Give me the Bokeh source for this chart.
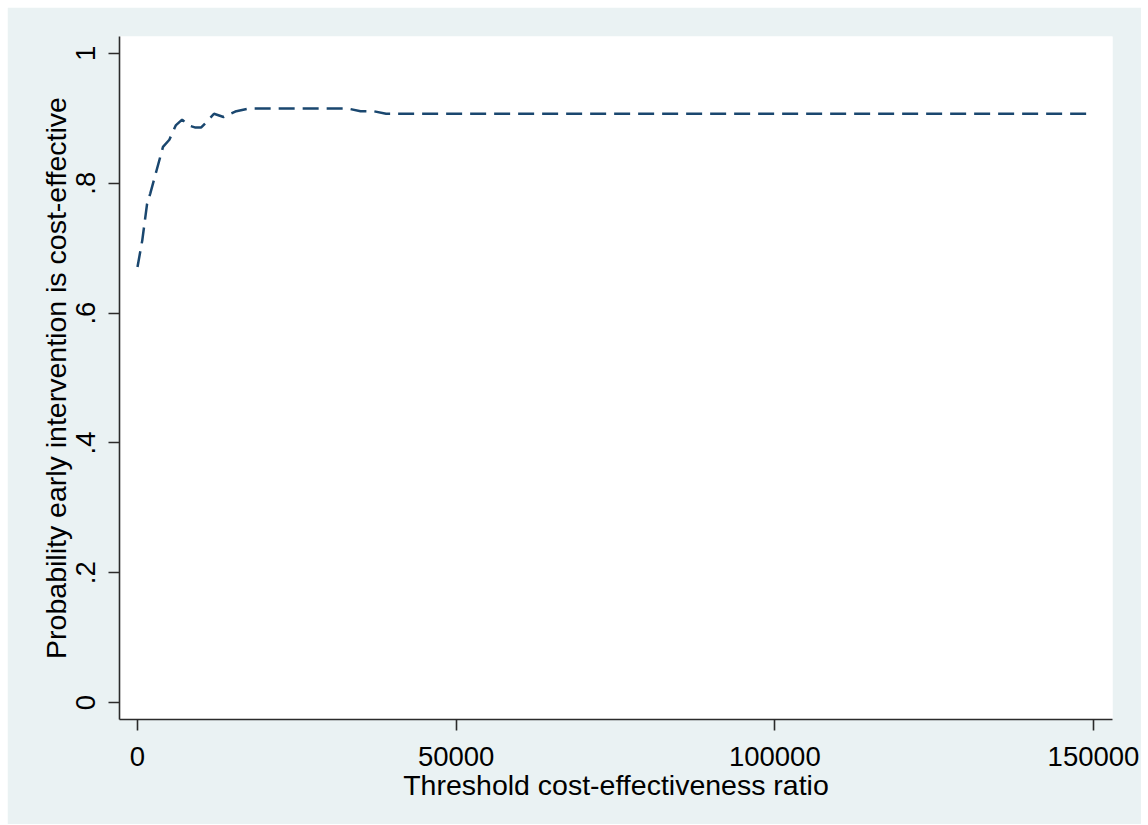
from bokeh.plotting import figure
from bokeh.models import FixedTicker, Range1d
from bokeh.embed import file_html
from bokeh.resources import INLINE

# Data
threshold = [0, 750, 1500, 2000, 3000, 4000, 5000, 6000, 7000, 8000, 9000, 10000,
             11000, 12000, 13500, 15500, 17500, 33000, 35000, 37000, 39000, 150000]
probability = [0.671, 0.712, 0.768, 0.784, 0.820, 0.856, 0.867, 0.889, 0.898, 0.889,
               0.886, 0.886, 0.896, 0.907, 0.902, 0.911, 0.915, 0.915, 0.911, 0.911,
               0.907, 0.907]

x_ticks = [0, 50000, 100000, 150000]
x_tick_labels = ["0", "50000", "100000", "150000"]
y_ticks = [0, 0.2, 0.4, 0.6, 0.8, 1.0]
y_tick_labels = ["0", ".2", ".4", ".6", ".8", "1"]

FONT = "Liberation Sans"

p = figure(width=1134, height=817, output_backend="svg", toolbar_location=None,
           x_range=Range1d(-2824, 152981), y_range=Range1d(-0.026, 1.026),
           min_border_left=112, min_border_right=29, min_border_top=29,
           min_border_bottom=105)
p.margin = (7, 0, 0, 7)

p.border_fill_color = "#EAF2F3"
p.background_fill_color = "white"
p.outline_line_color = None
p.grid.visible = False

p.line(threshold, probability, line_color="#1a476f", line_width=2.5, line_dash="16 8")

for ax in (p.xaxis[0], p.yaxis[0]):
    ax.axis_line_color = "#2b2b2b"
    ax.axis_line_width = 1.6
    ax.major_tick_line_color = "#2b2b2b"
    ax.major_tick_line_width = 1.6
    ax.major_tick_in = 0
    ax.major_tick_out = 11
    ax.minor_tick_line_color = None
    ax.major_label_text_font = FONT
    ax.major_label_text_font_size = "27.5px"
    ax.major_label_text_color = "black"
    ax.axis_label_text_font = FONT
    ax.axis_label_text_font_size = "28.5px"
    ax.axis_label_text_font_style = "normal"
    ax.axis_label_text_color = "black"

p.xaxis.ticker = FixedTicker(ticks=x_ticks)
p.xaxis.major_label_overrides = {t: l for t, l in zip(x_ticks, x_tick_labels)}
p.xaxis.axis_label = "Threshold cost-effectiveness ratio"
p.xaxis.major_label_standoff = 16
p.xaxis.axis_label_standoff = 0

p.yaxis.ticker = FixedTicker(ticks=y_ticks)
p.yaxis.major_label_overrides = {t: l for t, l in zip(y_ticks, y_tick_labels)}
p.yaxis.major_label_orientation = "vertical"
p.yaxis.axis_label = "Probability early intervention is cost-effective"
p.yaxis.major_label_standoff = 13
p.yaxis.axis_label_standoff = 2

open("out.html", "w").write(file_html(p, INLINE))
